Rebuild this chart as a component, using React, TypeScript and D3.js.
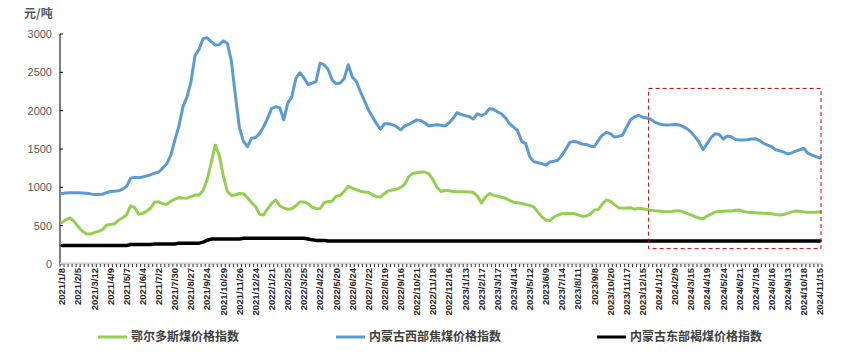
import React from "react";
import * as d3 from "d3";

const tickLabels = ["2021/1/8","2021/2/5","2021/3/12","2021/4/9","2021/5/7","2021/6/4","2021/7/2","2021/7/30","2021/8/27","2021/9/24","2021/10/29","2021/11/26","2021/12/24","2022/1/21","2022/2/25","2022/3/25","2022/4/22","2022/5/20","2022/6/24","2022/7/22","2022/8/19","2022/9/16","2022/10/21","2022/11/18","2022/12/16","2023/1/13","2023/2/17","2023/3/17","2023/4/14","2023/5/12","2023/6/9","2023/7/14","2023/8/11","2023/9/8","2023/10/20","2023/11/17","2023/12/15","2024/1/12","2024/2/9","2024/3/15","2024/4/19","2024/5/24","2024/6/21","2024/7/19","2024/8/16","2024/9/13","2024/10/18","2024/11/15"];

const seriesNames = ["鄂尔多斯煤价格指数", "内蒙古西部焦煤价格指数", "内蒙古东部褐煤价格指数"];

const ordos = [
  540,580,600,555,490,430,395,390,410,425,
  445,505,515,525,570,600,640,760,735,650,
  660,690,730,810,810,785,780,820,845,865,
  860,858,880,900,900,960,1100,1320,1550,1420,
  1150,950,895,900,920,915,865,800,750,650,
  640,720,790,835,760,730,715,720,760,810,
  810,790,740,725,720,800,815,820,885,895,
  950,1015,990,970,950,940,935,900,878,875,
  920,955,965,975,1000,1040,1140,1180,1190,1200,
  1200,1175,1100,1000,945,960,955,945,943,943,
  943,940,935,890,795,870,920,895,885,870,
  857,830,805,800,790,778,765,745,680,615,
  575,565,610,640,655,661,660,658,640,620,
  625,650,705,710,780,835,820,775,735,726,
  730,734,715,726,720,710,702,695,690,685,
  682,685,690,696,680,661,640,617,600,587,
  625,650,678,685,688,690,692,700,704,685,
  674,672,670,665,661,660,655,645,639,645,
  660,680,691,688,680,674,674,676,680
];

const westCoking = [
  920,925,930,930,928,925,922,915,905,905,
  910,930,945,950,955,975,1010,1120,1130,1125,
  1135,1150,1165,1185,1200,1250,1310,1420,1620,1800,
  2050,2180,2380,2720,2800,2940,2950,2900,2855,2860,
  2910,2880,2650,2200,1780,1600,1530,1640,1650,1700,
  1790,1900,2030,2050,2040,1880,2100,2180,2420,2495,
  2430,2340,2360,2380,2620,2600,2540,2400,2350,2360,
  2420,2600,2440,2380,2250,2130,2010,1920,1830,1760,
  1830,1830,1815,1790,1750,1800,1820,1850,1880,1870,
  1840,1800,1810,1815,1810,1800,1840,1900,1975,1950,
  1935,1925,1890,1960,1935,1960,2025,2020,1985,1960,
  1905,1830,1785,1740,1600,1570,1400,1335,1320,1310,
  1290,1330,1340,1355,1420,1500,1590,1600,1585,1565,
  1560,1540,1530,1610,1680,1715,1700,1655,1665,1680,
  1780,1880,1920,1940,1915,1905,1890,1850,1830,1815,
  1813,1815,1820,1815,1795,1765,1720,1660,1590,1490,
  1570,1650,1700,1690,1630,1670,1660,1625,1617,1617,
  1620,1630,1635,1610,1575,1550,1530,1490,1475,1460,
  1435,1450,1473,1490,1510,1445,1420,1400,1380
];

const eastLignite = [
  240,240,240,240,240,240,240,240,240,240,
  240,240,240,240,240,240,240,255,255,255,
  255,255,255,262,262,262,262,262,262,272,
  272,272,272,272,272,285,310,325,325,325,
  325,325,325,325,325,335,335,335,335,335,
  335,335,335,335,335,335,335,335,335,335,
  335,325,315,308,308,308,300,300,300,300,
  300,300,300,300,300,300,300,300,300,300,
  300,300,300,300,300,300,300,300,300,300,
  300,300,300,300,300,300,300,300,300,300,
  300,300,300,300,300,300,300,300,300,300,
  300,300,300,300,300,300,300,300,300,300,
  300,300,300,300,300,300,300,300,300,300,
  300,300,300,300,300,300,300,300,300,300,
  300,300,300,300,300,300,300,300,300,300,
  300,300,300,300,300,300,300,300,300,300,
  300,300,300,300,300,300,300,300,300,300,
  300,300,300,300,300,300,300,300,300,300,
  300,300,300,300,300,300,300,300,300
];

const yTicks = [0, 500, 1000, 1500, 2000, 2500, 3000];
const highlightStart = "2023/12/15";
const highlightEnd = "2024/11/15";

const W = 862;
const H = 355;
const left = 60;
const right = 822;
const top = 34;
const bottom = 264;

export default function App() {
  const idx = d3.range(ordos.length);
  const x = d3.scaleBand<number>().domain(idx).range([left, right]).paddingInner(0).paddingOuter(0);
  const cx = (i: number) => (x(i) as number) + x.bandwidth() / 2;
  const y = d3.scaleLinear().domain([0, 3000]).range([bottom, top]);
  const line = d3.line<number>().x((_, i) => cx(i)).y((d) => y(d)).curve(d3.curveLinear);

  const labelIndex = (k: number) => k * 4;
  const hsI = labelIndex(tickLabels.indexOf(highlightStart));
  const heI = labelIndex(tickLabels.indexOf(highlightEnd));
  const boxX0 = (x(hsI + 2) as number);
  const boxX1 = (x(heI) as number) + x.bandwidth() - 1;
  const boxY0 = y(2290);
  const boxY1 = y(200);

  const series = [
    { name: seriesNames[0], data: ordos, color: "#92D050", w: 3 },
    { name: seriesNames[1], data: westCoking, color: "#5B9BD5", w: 3 },
    { name: seriesNames[2], data: eastLignite, color: "#000000", w: 3.5 },
  ];
  const legendX = [98, 336, 597];

  return (
    <svg width={W} height={H} style={{ position: "fixed", left: 0, top: 0, background: "#fff" }}
      fontFamily="'Liberation Sans', Arial, sans-serif">
      <text x={24} y={18} fontSize={12} fill="#595959" fontWeight={700}
        fontFamily="'Noto Sans CJK SC', sans-serif">元/吨</text>
      {yTicks.map((t) => (
        <g key={t}>
          <text x={52} y={y(t)} dy="0.35em" textAnchor="end" fontSize={11} fill="#595959">{t}</text>
          <line x1={left} x2={left + 3} y1={y(t)} y2={y(t)} stroke="#000" strokeWidth={1} />
        </g>
      ))}
      <line x1={left} x2={left} y1={top} y2={bottom} stroke="#000" strokeWidth={1} />
      <line x1={left} x2={right} y1={bottom - 0.5} y2={bottom - 0.5} stroke="#d0d0d0" strokeWidth={2} />
      {d3.range(ordos.length + 1).map((i) => {
        const xx = i < ordos.length ? (x(i) as number) : right;
        return <line key={i} x1={xx} x2={xx} y1={bottom} y2={bottom + 3} stroke="#000" strokeWidth={0.8} />;
      })}
      {tickLabels.map((lab, k) => {
        const xx = cx(labelIndex(k));
        return (
          <text key={lab} transform={`translate(${xx},${bottom + 4}) rotate(-90)`} textAnchor="end"
            dy="0.35em" fontSize={9.5} fontWeight={700} fill="#262626">{lab}</text>
        );
      })}
      {series.map((s) => (
        <path key={s.name} d={line(s.data) as string} fill="none" stroke={s.color} strokeWidth={s.w}
          strokeLinejoin="round" strokeLinecap="round" />
      ))}
      <rect x={boxX0} y={boxY0} width={boxX1 - boxX0} height={boxY1 - boxY0} fill="none"
        stroke="#C00000" strokeWidth={1} strokeDasharray="4 3" />
      {series.map((s, k) => (
        <g key={s.name} transform={`translate(${legendX[k]},337)`}>
          <line x1={0} x2={29} y1={0} y2={0} stroke={s.color} strokeWidth={3} />
          <text x={33} y={0} dy="0.35em" fontSize={12} fontWeight={700} fill="#404040"
            fontFamily="'Noto Sans CJK SC', sans-serif">{s.name}</text>
        </g>
      ))}
    </svg>
  );
}
